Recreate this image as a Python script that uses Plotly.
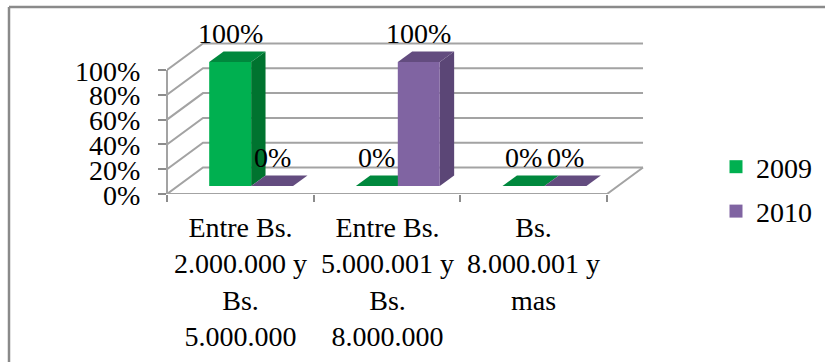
import plotly.graph_objects as go

# ---- data ----
categories = [
    "Entre Bs.<br>2.000.000 y<br>Bs.<br>5.000.000",
    "Entre Bs.<br>5.000.001 y<br>Bs.<br>8.000.000",
    "Bs.<br>8.000.001 y<br>mas",
]
series_names = ["2009", "2010"]
values_2009 = [100, 0, 0]
values_2010 = [0, 100, 0]
y_ticks = [0, 20, 40, 60, 80, 100]
y_tick_labels = ["0%", "20%", "40%", "60%", "80%", "100%"]

# ---- page geometry (pixels) ----
W, H = 825, 362
FLOOR_PX = 194          # pixel row of the front floor edge
AXIS_PX = 167           # pixel column of the front value axis
CAT_PX = 146.67         # pixels per category
PCT_PX = 1.24           # pixels per percentage point
DEPTH_PX = (36, 26.5)   # 3-D depth vector (right, up) in pixels

DX = DEPTH_PX[0] / CAT_PX
DY = DEPTH_PX[1] / PCT_PX
Z0, Z1 = 0.3, 0.7        # front/back depth of the bars
BAR_W = 0.286            # bar width in category units
N = len(categories)

PLOT_W = W - AXIS_PX
x_range = [0, PLOT_W / CAT_PX]
y_range = [0, FLOOR_PX / PCT_PX]

GRID = "#a3a3a3"
TICK = "#8c8c8c"
FONT = "Liberation Serif"
TXT = dict(family=FONT, size=28, color="black")

colors = {
    "2009": {"front": "#00b050", "side": "#00732f", "top": "#00883d"},
    "2010": {"front": "#8064a2", "side": "#5b4676", "top": "#634c7f"},
}

fig = go.Figure()


def line(xs, ys):
    fig.add_trace(go.Scatter(x=xs, y=ys, mode="lines", hoverinfo="skip",
                             showlegend=False,
                             line=dict(color=GRID, width=2)))


# back wall and side wall gridlines
for t in y_ticks:
    line([0, DX, N + DX], [t, t + DY, t + DY])
# floor front and right edges
line([0, N, N + DX], [0, 0, DY])


def face(xs, ys, color):
    fig.add_trace(go.Scatter(x=xs + [xs[0]], y=ys + [ys[0]], fill="toself",
                             fillcolor=color, mode="lines",
                             line=dict(width=0, color=color),
                             hoverinfo="skip", showlegend=False))


annotations = []
all_values = {"2009": values_2009, "2010": values_2010}
for i in range(N):
    c = i + 0.5
    for s, name in enumerate(series_names):
        v = all_values[name][i]
        col = colors[name]
        xl = c - BAR_W + s * BAR_W
        xr = xl + BAR_W
        # side face
        face([xr + Z0 * DX, xr + Z1 * DX, xr + Z1 * DX, xr + Z0 * DX],
             [Z0 * DY, Z1 * DY, v + Z1 * DY, v + Z0 * DY], col["side"])
        # top face
        face([xl + Z0 * DX, xr + Z0 * DX, xr + Z1 * DX, xl + Z1 * DX],
             [v + Z0 * DY, v + Z0 * DY, v + Z1 * DY, v + Z1 * DY], col["top"])
        # front face
        face([xl + Z0 * DX, xr + Z0 * DX, xr + Z0 * DX, xl + Z0 * DX],
             [Z0 * DY, Z0 * DY, v + Z0 * DY, v + Z0 * DY], col["front"])
        # value label above the bar
        annotations.append(dict(
            x=(xl + xr) / 2 + Z0 * DX, y=v + Z1 * DY, xref="x", yref="y",
            text=f"{v}%", showarrow=False, xanchor="center",
            yanchor="bottom", yshift=0, font=TXT))

# category labels under the floor
for i, cat in enumerate(categories):
    annotations.append(dict(x=i + 0.5, y=0, xref="x", yref="paper",
                            text=cat, showarrow=False, xanchor="center",
                            yanchor="top", yshift=-16, font=TXT))
# value axis labels
for t, lab in zip(y_ticks, y_tick_labels):
    annotations.append(dict(x=0, y=t, xref="x", yref="y", text=lab,
                            showarrow=False, xanchor="right", xshift=-25,
                            yshift=-1, font=TXT))

# legend entries
for name in series_names:
    fig.add_trace(go.Scatter(x=[None], y=[None], mode="markers", name=name,
                             legendgroup=name,
                             marker=dict(symbol="square", size=13,
                                         color=colors[name]["front"])))


def px_x(p):
    return (p - AXIS_PX) / PLOT_W


def px_y(p):
    return (FLOOR_PX - p) / FLOOR_PX


fig.update_layout(
    width=W, height=H,
    template="none",
    font=dict(family=FONT, color="black"),
    margin=dict(l=AXIS_PX, r=0, t=0, b=H - FLOOR_PX, pad=0),
    paper_bgcolor="white", plot_bgcolor="white",
    showlegend=True,
    legend=dict(x=px_x(716), y=px_y(142), xanchor="left", yanchor="top",
                font=TXT, bgcolor="rgba(0,0,0,0)", borderwidth=0,
                tracegroupgap=5),
    xaxis=dict(range=x_range, showgrid=False, zeroline=False, showline=False,
               tickmode="array", tickvals=list(range(N + 1)),
               ticktext=[""] * (N + 1), ticks="outside", ticklen=7,
               tickwidth=2, tickcolor=TICK, fixedrange=True),
    yaxis=dict(range=y_range, showgrid=False, zeroline=False, showline=False,
               tickmode="array", tickvals=y_ticks, showticklabels=False,
               ticks="outside", ticklen=8, tickwidth=2, tickcolor=TICK,
               fixedrange=True),
    annotations=annotations,
    shapes=[
        # value axis line
        dict(type="line", xref="paper", yref="y", x0=0, x1=0,
             y0=0, y1=max(y_ticks), line=dict(color=GRID, width=2)),
        # chart border
        dict(type="line", xref="paper", yref="paper",
             x0=px_x(9), y0=px_y(7), x1=px_x(W + 5), y1=px_y(7),
             line=dict(color="#8a8a8a", width=2.5)),
        dict(type="line", xref="paper", yref="paper",
             x0=px_x(9), y0=px_y(7), x1=px_x(9), y1=px_y(H + 5),
             line=dict(color="#8a8a8a", width=2.5)),
    ],
)

fig.write_html("out.html")
